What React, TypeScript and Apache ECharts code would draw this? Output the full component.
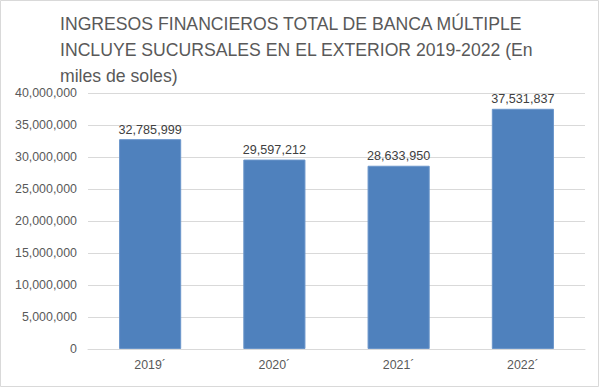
import React, { useEffect, useRef } from "react";
import * as echarts from "echarts";

const categories = ["2019´", "2020´", "2021´", "2022´"];
const values = [32785999, 29597212, 28633950, 37531837];
const titleLines = [
  "INGRESOS FINANCIEROS TOTAL DE BANCA MÚLTIPLE",
  "INCLUYE SUCURSALES EN EL EXTERIOR 2019-2022 (En",
  "miles de soles)",
];

const FONT = "'Liberation Sans', sans-serif";

function fmt(v: number) {
  return v.toLocaleString("en-US");
}

export default function App() {
  const ref = useRef<HTMLDivElement>(null);
  useEffect(() => {
    document.body.style.margin = "0";
    const chart = echarts.init(ref.current!, null, { renderer: "svg" });
    chart.setOption({
      animation: false,
      backgroundColor: "#ffffff",
      graphic: [
        {
          type: "rect",
          shape: { x: 0.5, y: 0.5, width: 598, height: 386 },
          style: { fill: "none", stroke: "#D9D9D9", lineWidth: 1 },
          silent: true,
        },
        {
          type: "text",
          x: 60,
          y: 11,
          scaleX: 0.98,
          silent: true,
          style: {
            text: titleLines.join("\n"),
            fontFamily: FONT,
            fontSize: 18,
            lineHeight: 26,
            fill: "#595959",
            verticalAlign: "top",
            align: "left",
          },
        },
      ],
      grid: { left: 88, right: 15, top: 93, bottom: 39, containLabel: false },
      xAxis: {
        type: "category",
        data: categories,
        axisLine: { lineStyle: { color: "#D9D9D9" } },
        axisTick: { show: false },
        axisLabel: { color: "#595959", fontFamily: FONT, fontSize: 12.4, margin: 10 },
      },
      yAxis: {
        type: "value",
        min: 0,
        max: 40000000,
        interval: 5000000,
        axisLine: { show: false },
        axisTick: { show: false },
        splitLine: { lineStyle: { color: "#D9D9D9" } },
        axisLabel: {
          color: "#595959",
          fontFamily: FONT,
          fontSize: 12.4,
          margin: 11,
          formatter: (v: number) => fmt(v),
        },
      },
      series: [
        {
          type: "bar",
          data: values,
          barWidth: "50%",
          itemStyle: { color: "#4F81BD", borderColor: "#6A95CA", borderWidth: 1 },
          label: {
            show: true,
            position: "top",
            distance: 3,
            color: "#404040",
            fontFamily: FONT,
            fontSize: 12.6,
            formatter: (p: any) => fmt(p.value),
          },
        },
      ],
    });
    return () => chart.dispose();
  }, []);
  return <div ref={ref} style={{ width: 600, height: 388 }} />;
}
